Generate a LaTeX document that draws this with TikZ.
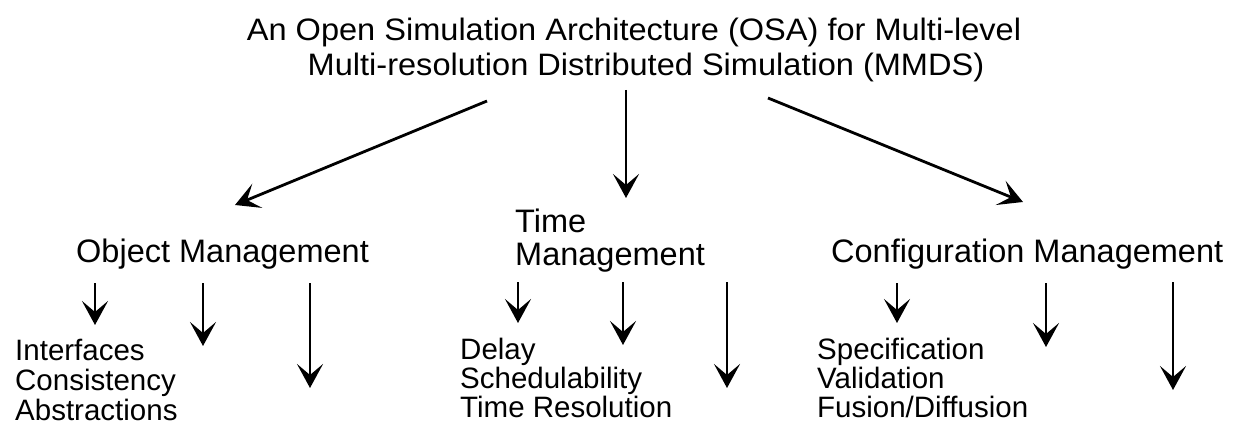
\documentclass[tikz,border=0pt]{standalone}
\usepackage{fontspec}
\setmainfont{Liberation Sans}
\newfontfamily\ttlfont[FakeStretch=1.05]{Liberation Sans}
\usetikzlibrary{arrows.meta}
\begin{document}
\begin{tikzpicture}[x=1pt,y=-1pt,
  arr/.style={line width=2.8pt,-{Stealth[length=24pt,width=26pt,inset=11pt]}},
  ttl/.style={inner sep=0pt,anchor=base,font=\ttlfont\fontsize{31}{34}\selectfont},
  lvtwo/.style={inner sep=0pt,anchor=base west,font=\fontsize{32.5}{34}\selectfont},
  lvthree/.style={inner sep=0pt,anchor=base west,font=\fontsize{29.5}{30}\selectfont}]
\useasboundingbox (0,0) rectangle (1237,425);
% title
\node[ttl] (title1) at (634,41) {An Open Simulation Architecture (OSA) for Multi-level};
\node[ttl] (title2) at (646,76) {Multi-resolution Distributed Simulation (MMDS)};
% level two
\node[lvtwo] (om) at (76,262) {Object Management};
\node[lvtwo] (tmA) at (515,232) {Time};
\node[lvtwo] (tmB) at (515,265) {Management};
\node[lvtwo] (cm) at (831,262) {Configuration Management};
% level three texts
\node[lvthree] (o1) at (15,360) {Interfaces};
\node[lvthree] (o2) at (15,390) {Consistency};
\node[lvthree] (o3) at (15,420) {Abstractions};
\node[lvthree] (d1) at (460,359) {Delay};
\node[lvthree] (d2) at (460,388) {Schedulability};
\node[lvthree] (d3) at (460,417) {Time Resolution};
\node[lvthree] (c1) at (817,359) {Specification};
\node[lvthree] (c2) at (817,388) {Validation};
\node[lvthree] (c3) at (817,417) {Fusion/Diffusion};
% top arrows
\coordinate (sL) at (487,101); \coordinate (eL) at (235,205);
\coordinate (sM) at (626,90);  \coordinate (eM) at (626,198);
\coordinate (sR) at (768,98);  \coordinate (eR) at (1023,202);
\draw[arr] (sL) -- (eL);
\draw[arr] (sM) -- (eM);
\draw[arr] (sR) -- (eR);
% object management arrows
\coordinate (oa1) at (95,283);  \coordinate (ob1) at (95,325);
\coordinate (oa2) at (203,283); \coordinate (ob2) at (203,346);
\coordinate (oa3) at (310,283); \coordinate (ob3) at (310,388);
\draw[arr] (oa1) -- (ob1);
\draw[arr] (oa2) -- (ob2);
\draw[arr] (oa3) -- (ob3);
% time management arrows
\coordinate (ta1) at (518,282); \coordinate (tb1) at (518,323);
\coordinate (ta2) at (623,282); \coordinate (tb2) at (623,345);
\coordinate (ta3) at (727,282); \coordinate (tb3) at (727,388);
\draw[arr] (ta1) -- (tb1);
\draw[arr] (ta2) -- (tb2);
\draw[arr] (ta3) -- (tb3);
% configuration management arrows
\coordinate (ca1) at (897,283);  \coordinate (cb1) at (897,323);
\coordinate (ca2) at (1046,283); \coordinate (cb2) at (1046,347);
\coordinate (ca3) at (1173,282); \coordinate (cb3) at (1173,390);
\draw[arr] (ca1) -- (cb1);
\draw[arr] (ca2) -- (cb2);
\draw[arr] (ca3) -- (cb3);
\end{tikzpicture}
\end{document}
